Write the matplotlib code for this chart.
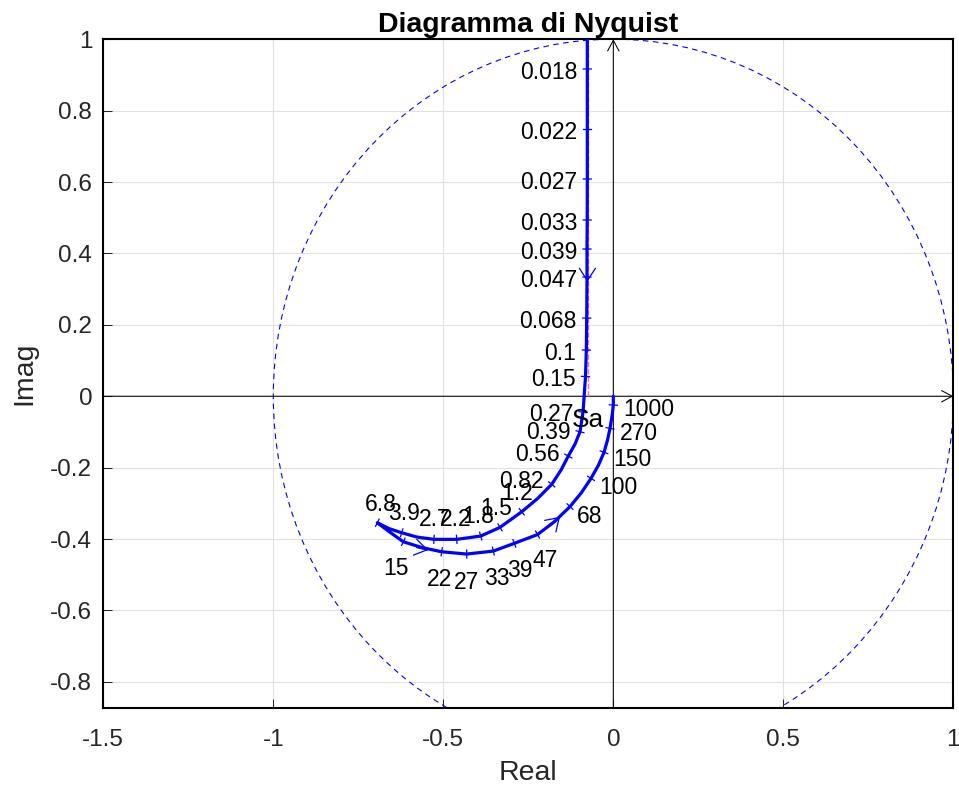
import numpy as np
import matplotlib
matplotlib.use("Agg")
import matplotlib.pyplot as plt
from matplotlib.patches import Circle

plt.rcParams['font.family'] = ['Liberation Sans', 'DejaVu Sans']

# Frequency response of the loop function: angular frequency (rad/s),
# real part and imaginary part along the positive-frequency branch.
freq = [0.012, 0.018, 0.022, 0.027, 0.033, 0.039, 0.047, 0.068, 0.1, 0.15,
        0.27, 0.39, 0.47, 0.56, 0.68, 0.82, 1.0, 1.2, 1.5, 1.8, 2.2, 2.7,
        3.3, 3.9, 5.0, 6.8, 10, 15, 18, 22, 27, 33, 39, 47, 56, 68, 82,
        100, 120, 150, 200, 270, 500, 1000, 1e5]
re_part = [-0.0763, -0.0765, -0.0765, -0.0765, -0.0768, -0.0774, -0.0774,
           -0.0782, -0.0794, -0.0818, -0.0891, -0.0979, -0.1126, -0.1324,
           -0.1538, -0.1812, -0.2229, -0.2694, -0.3332, -0.3900, -0.4606,
           -0.5274, -0.5774, -0.6224, -0.6597, -0.6941, -0.6568, -0.6176,
           -0.5626, -0.5047, -0.4312, -0.3529, -0.2912, -0.2229, -0.1729,
           -0.1274, -0.0935, -0.0656, -0.0435, -0.0274, -0.0171, -0.0097,
           -0.0029, 0.0, 0.0]
im_part = [1.45, 0.9165, 0.7485, 0.6084, 0.4936, 0.4123, 0.3339, 0.2190,
           0.1294, 0.0552, -0.0443, -0.0994, -0.1339, -0.1675, -0.2067,
           -0.2468, -0.2866, -0.3235, -0.3672, -0.3916, -0.4008, -0.4008,
           -0.3944, -0.3824, -0.3706, -0.3543, -0.3809, -0.4076, -0.4238,
           -0.4356, -0.4420, -0.4336, -0.4120, -0.3874, -0.3510, -0.3090,
           -0.2697, -0.2300, -0.1927, -0.1571, -0.1227, -0.0899, -0.0499,
           -0.0246, 0.0]

# Frequencies annotated along the curve
labelled_freq = [0.018, 0.022, 0.027, 0.033, 0.039, 0.047, 0.068, 0.1, 0.15,
                 0.27, 0.39, 0.56, 0.82, 1.2, 1.5, 1.8, 2.2, 2.7, 3.9, 6.8,
                 15, 22, 27, 33, 39, 47, 68, 100, 150, 270, 1000]

# Direction arrows placed on the curve
arrow_re = [-0.0765, -0.5441, -0.1568]
arrow_im = [0.3207, -0.4308, -0.3375]

# Real-axis asymptote of the low-frequency branch
asymptote_re = -0.0759

x_ticks = [-1.5, -1, -0.5, 0, 0.5, 1]
x_tick_labels = ['-1.5', '-1', '-0.5', '0', '0.5', '1']
y_ticks = [-0.8, -0.6, -0.4, -0.2, 0, 0.2, 0.4, 0.6, 0.8, 1]
y_tick_labels = ['-0.8', '-0.6', '-0.4', '-0.2', '0', '0.2', '0.4', '0.6', '0.8', '1']

XLIM = (-1.5, 1.0)
YLIM = (-0.874, 1.0)
BLUE = (0, 0, 1)
AX_GRAY = '#262626'

fig = plt.figure(figsize=(9.59, 7.90), dpi=100)
ax = fig.add_axes([0.1077, 0.1034, 0.8864, 0.8470])
ax.set_xlim(*XLIM)
ax.set_ylim(*YLIM)

ax.set_xticks(x_ticks)
ax.set_xticklabels(x_tick_labels)
ax.set_yticks(y_ticks)
ax.set_yticklabels(y_tick_labels)
ax.tick_params(direction='in', length=6.5, width=0.75, color=AX_GRAY,
               labelcolor=AX_GRAY, labelsize=17.5, top=False, right=False)
ax.tick_params(axis='x', pad=15)
ax.tick_params(axis='y', pad=8)
for sp in ax.spines.values():
    sp.set_linewidth(1.5)
    sp.set_color('black')
ax.grid(True, color='#e1e1e1', lw=0.8)
ax.set_axisbelow(True)

ax.set_title('Diagramma di Nyquist', fontsize=20.5, fontweight='bold', pad=5)
ax.set_xlabel('Real', fontsize=20.5, color=AX_GRAY)
ax.set_ylabel('Imag', fontsize=20.5, color=AX_GRAY)
ax.xaxis.set_label_coords(0.5, -0.077)
ax.yaxis.set_label_coords(-0.077, 0.5)

# Unit circle
ax.add_patch(Circle((0, 0), 1.0, fill=False, ec=BLUE, lw=0.8,
                    ls=(0, (5, 4)), zorder=2))

# Coordinate axes with arrow heads
axis_arrow = dict(arrowstyle='->,head_length=0.77,head_width=0.41',
                  color='black', lw=0.75, shrinkA=0, shrinkB=0,
                  mutation_scale=10)
ax.annotate('', xy=(XLIM[1], 0), xytext=(XLIM[0], 0),
            arrowprops=axis_arrow, annotation_clip=False, zorder=3)
ax.annotate('', xy=(0, YLIM[1]), xytext=(0, YLIM[0]),
            arrowprops=axis_arrow, annotation_clip=False, zorder=3)

# Asymptote
ax.plot([asymptote_re, asymptote_re], [0, YLIM[1]], color=(1, 0.45, 0.45),
        ls='--', lw=1.0, zorder=3)

# Nyquist curve
ax.plot(re_part, im_part, color=BLUE, lw=2.3, zorder=4,
        solid_joinstyle='round', solid_capstyle='round')

# Frequency ticks and labels, on the right-hand side of the travel direction
pts = ax.transData.transform(np.column_stack([re_part, im_part]))
inv = ax.transData.inverted()
px2pt = 72.0 / fig.dpi
for f in labelled_freq:
    i = freq.index(f)
    back = pts[i] - pts[i - 1]
    fwd = pts[i + 1] - pts[i]
    if np.dot(back, fwd) < 0:
        t = back
    else:
        t = pts[i + 1] - pts[i - 1]
    t = t / np.hypot(*t)
    n = np.array([t[1], -t[0]])
    seg = inv.transform(np.array([pts[i] - 4 * n, pts[i] + 4 * n]))
    ax.plot(seg[:, 0], seg[:, 1], color=BLUE, lw=0.9, zorder=5)

    ha = 'left' if n[0] > 0.707 else ('right' if n[0] < -0.707 else 'center')
    va = 'bottom' if n[1] > 0.707 else ('top' if n[1] < -0.707 else 'center')
    d = {'top': 16.5, 'bottom': 8.0, 'center': 10.0}[va]
    drop = 3.5 if va == 'center' else 0.0
    ax.annotate(f'{f:g}', xy=(re_part[i], im_part[i]),
                xytext=(d * n[0] * px2pt, (d * n[1] - drop) * px2pt),
                textcoords='offset points', ha=ha, va=va, fontsize=16.5,
                color='black', zorder=6)

# Direction arrows along the curve
segs = pts[1:] - pts[:-1]
for ar, ai in zip(arrow_re, arrow_im):
    p = ax.transData.transform((ar, ai))
    rel = p - pts[:-1]
    tpar = np.clip(np.sum(rel * segs, axis=1) / np.sum(segs * segs, axis=1), 0, 1)
    dist = np.hypot(*(pts[:-1] + segs * tpar[:, None] - p).T)
    k = int(np.argmin(dist))
    direc = segs[k] / np.hypot(*segs[k])
    tail = inv.transform(p - 12 * direc)
    ax.annotate('', xy=(ar, ai), xytext=tail,
                arrowprops=dict(arrowstyle='->,head_length=0.89,head_width=0.58',
                                color=BLUE, lw=0.9, shrinkA=0, shrinkB=0,
                                mutation_scale=10), zorder=5)

ax.annotate('Sa', xy=(asymptote_re, 0), xytext=(0.4, -8.5),
            textcoords='offset points', ha='center', va='top', fontsize=19,
            color='black', zorder=6)

fig.savefig('out.png', dpi=100)
